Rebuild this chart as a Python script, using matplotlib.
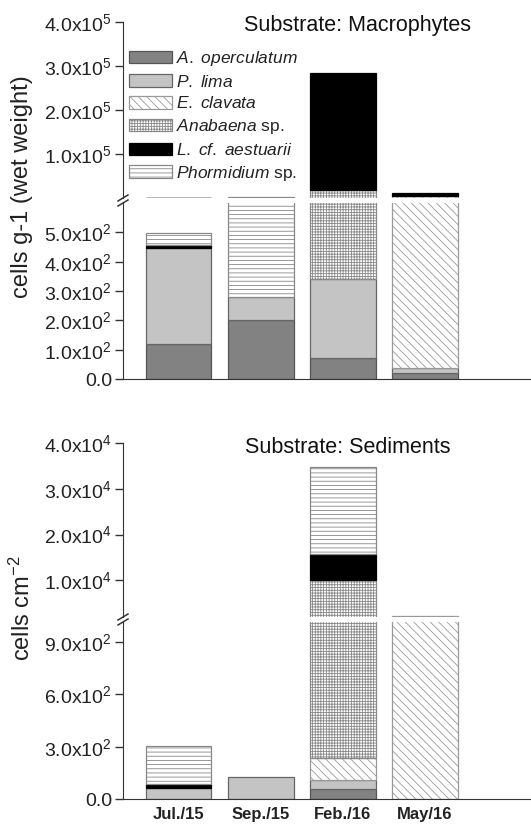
import matplotlib
matplotlib.use("Agg")
import matplotlib.pyplot as plt
from matplotlib.patches import Patch
from matplotlib.lines import Line2D
import numpy as np

plt.rcParams['font.family'] = ['Liberation Sans', 'DejaVu Sans']
plt.rcParams['mathtext.fontset'] = 'custom'
plt.rcParams['mathtext.rm'] = 'Liberation Sans'
plt.rcParams['mathtext.it'] = 'Liberation Sans:italic'
plt.rcParams['mathtext.bf'] = 'Liberation Sans:bold'
plt.rcParams['hatch.linewidth'] = 0.6

# sampling dates
dates = ['Jul./15', 'Sep./15', 'Feb./16', 'May/16']

# species (legend order)
species = [r'$\mathit{A.\ operculatum}$', r'$\mathit{P.\ lima}$', r'$\mathit{E.\ clavata}$',
           r'$\mathit{Anabaena}$ sp.', r'$\mathit{L.\ cf.\ aestuarii}$', r'$\mathit{Phormidium}$ sp.']

# cells g-1 (wet weight) on macrophytes
macro_aoper = [120, 202, 73, 19]
macro_plima = [328, 77, 269, 18]
macro_eclav = [0, 0, 0, 5000]
macro_anab = [0, 0, 19000, 0]
macro_laest = [8, 0, 266000, 7000]
macro_phorm = [42, 2200, 0, 0]

# cells cm-2 in sediments
sed_aoper = [0, 0, 55, 0]
sed_plima = [61, 124, 54, 0]
sed_eclav = [0, 0, 124, 2300]
sed_anab = [0, 0, 9767, 0]
sed_laest = [25, 0, 5700, 0]
sed_phorm = [217, 0, 19000, 0]

fills = ['#828282', '#c4c4c4', 'white', 'white', 'black', 'white']
hatches = [None, None, '\\\\\\\\', '++++++', None, '----']
edges = ['#555555', '#666666', '#999999', '#888888', 'black', '#888888']

W, H = 531, 825
fig = plt.figure(figsize=(W / 100, H / 100), dpi=100)


def fig_rect(x0, y0, x1, y1):
    # pixel box (top-left origin) -> figure fraction
    return [x0 / W, 1 - y1 / H, (x1 - x0) / W, (y1 - y0) / H]


def draw_stack(ax, series):
    x = np.arange(len(dates))
    bottom = np.zeros(len(dates))
    for vals, fc, hc, ec in zip(series, fills, hatches, edges):
        vals = np.array(vals, dtype=float)
        m = vals > 0
        ax.bar(x[m], vals[m], bottom=bottom[m], width=0.8, color=fc,
               edgecolor=ec, hatch=hc, linewidth=0.9)
        bottom += vals
    ax.set_xlim(-0.675, 4.29)


def style(ax, lower, ticks, labels):
    for s in ['top', 'right']:
        ax.spines[s].set_visible(False)
    ax.spines['left'].set_color('#333333')
    ax.spines['bottom'].set_color('#333333')
    if not lower:
        ax.spines['bottom'].set_visible(False)
    ax.set_yticks(ticks)
    ax.set_yticklabels(labels)
    ax.tick_params(axis='y', direction='out', length=6, width=1,
                   color='#333333', labelsize=14, pad=2, labelcolor='#222222')
    ax.tick_params(axis='x', length=0)
    ax.set_xticks(np.arange(len(dates)))
    ax.set_xticklabels([])


def break_marks(xpx, ypx):
    for dy in (-2.5, 2.5):
        xs = [(xpx - 5) / W, (xpx + 5) / W]
        ys = [1 - (ypx + dy + 3) / H, 1 - (ypx + dy - 3) / H]
        fig.add_artist(Line2D(xs, ys, color='#333333', lw=1.1))


macro = [macro_aoper, macro_plima, macro_eclav, macro_anab, macro_laest, macro_phorm]
sed = [sed_aoper, sed_plima, sed_eclav, sed_anab, sed_laest, sed_phorm]

# top panel: macrophytes
ax1u = fig.add_axes(fig_rect(123, 22, 531, 198))
draw_stack(ax1u, macro)
ax1u.set_ylim(600, 4.0e5)
style(ax1u, False, [1e5, 2e5, 3e5, 4e5],
      [r'1.0x10$^{5}$', r'2.0x10$^{5}$', r'3.0x10$^{5}$', r'4.0x10$^{5}$'])

ax1l = fig.add_axes(fig_rect(123, 203, 531, 379))
draw_stack(ax1l, macro)
ax1l.set_ylim(0, 600)
style(ax1l, True, [0, 100, 200, 300, 400, 500],
      ['0.0', r'1.0x10$^{2}$', r'2.0x10$^{2}$', r'3.0x10$^{2}$', r'4.0x10$^{2}$', r'5.0x10$^{2}$'])
break_marks(123, 200.5)

# bottom panel: sediments
ax2u = fig.add_axes(fig_rect(123, 443, 531, 617))
draw_stack(ax2u, sed)
ax2u.set_ylim(2000, 4.0e4)
style(ax2u, False, [1e4, 2e4, 3e4, 4e4],
      [r'1.0x10$^{4}$', r'2.0x10$^{4}$', r'3.0x10$^{4}$', r'4.0x10$^{4}$'])

ax2l = fig.add_axes(fig_rect(123, 622, 531, 799))
draw_stack(ax2l, sed)
ax2l.set_ylim(0, 1015)
style(ax2l, True, [0, 300, 600, 900],
      ['0.0', r'3.0x10$^{2}$', r'6.0x10$^{2}$', r'9.0x10$^{2}$'])
ax2l.set_xticklabels(dates, fontsize=12, fontweight='bold', color='#222222')
ax2l.tick_params(axis='x', pad=6)
break_marks(123, 619.5)

# titles and axis labels
fig.text(358 / W, 1 - 25 / H, 'Substrate: Macrophytes', ha='center', va='center',
         fontsize=15.5, color='#111111')
fig.text(348 / W, 1 - 447 / H, 'Substrate: Sediments', ha='center', va='center',
         fontsize=15.5, color='#111111')
fig.text(22 / W, 1 - 187 / H, 'cells g-1 (wet weight)', rotation=90, ha='center',
         va='center', fontsize=17, color='#222222')
fig.text(22 / W, 1 - 608 / H, r'cells cm$^{-2}$', rotation=90, ha='center',
         va='center', fontsize=17, color='#222222')

# legend
handles = [Patch(facecolor=fc, edgecolor=ec, hatch=hc, linewidth=0.9)
           for fc, hc, ec in zip(fills, hatches, edges)]
leg = ax1u.legend(handles, species, loc='upper left',
                  bbox_to_anchor=(129 / W, 1 - 49 / H), bbox_transform=fig.transFigure,
                  frameon=False, fontsize=12.5, handlelength=2.45, handleheight=0.75,
                  labelspacing=0.33, handletextpad=0.25, borderaxespad=0, borderpad=0)
for t in leg.get_texts():
    t.set_color('#222222')

fig.savefig('out.png', dpi=100)
